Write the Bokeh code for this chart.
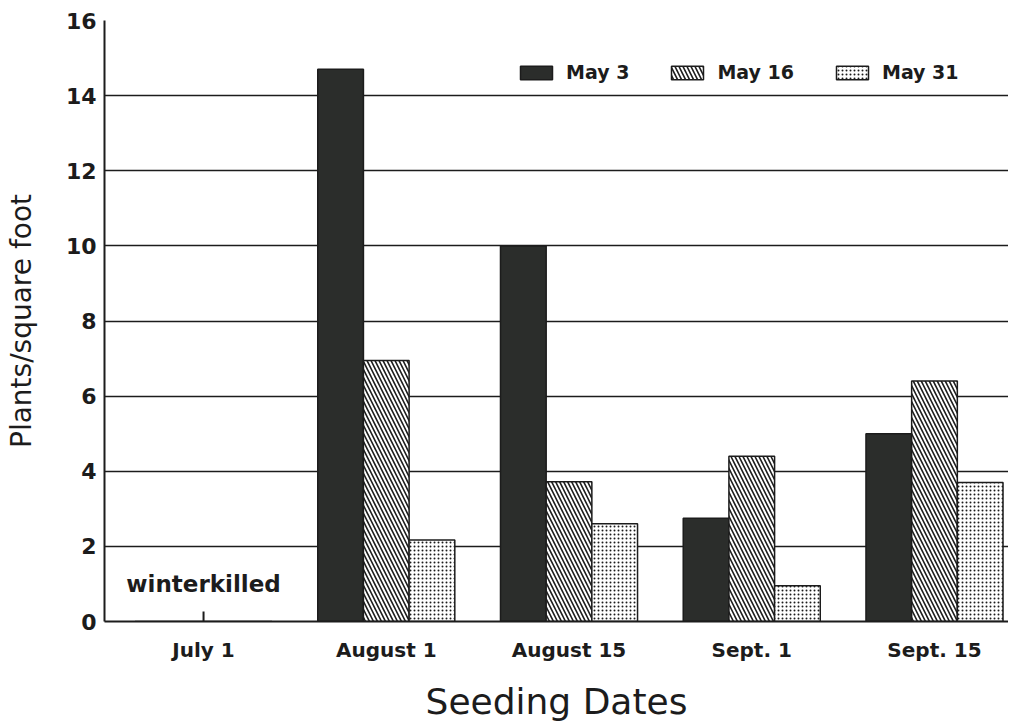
import numpy as np
from bokeh.plotting import figure
from bokeh.models import ColumnDataSource, FixedTicker, Range1d, Label
from bokeh.transform import dodge
from bokeh.embed import file_html
from bokeh.resources import INLINE

# ---- data ----
dates = ["July 1", "August 1", "August 15", "Sept. 1", "Sept. 15"]
may3 = [0, 14.7, 10.0, 2.75, 5.0]
may16 = [0, 6.95, 3.72, 4.4, 6.4]
may31 = [0, 2.17, 2.6, 0.95, 3.7]
series_names = ["May 3", "May 16", "May 31"]
y_ticks = [0, 2, 4, 6, 8, 10, 12, 14, 16]
note_text = "winterkilled"
note_date_index = 0
note_y = 1.0

FONT = "DejaVu Sans"
INK = "#1c1c1c"
DARK = "#2b2d2b"

idx = list(range(len(dates)))
src = ColumnDataSource(dict(idx=idx, may3=may3, may16=may16, may31=may31))

p = figure(width=1008, height=724, output_backend="svg", toolbar_location=None,
           x_range=Range1d(-0.542, 4.405), y_range=Range1d(0, 16),
           min_border_left=104, min_border_right=0, min_border_top=20, min_border_bottom=102)
p.outline_line_color = None
p.background_fill_color = "white"

bw = 0.25
p.vbar(x=dodge("idx", -bw, range=p.x_range), top="may3", width=bw, source=src,
       fill_color=DARK, line_color=INK, line_width=1.5, legend_label=series_names[0])
p.vbar(x=dodge("idx", 0, range=p.x_range), top="may16", width=bw, source=src,
       fill_color="white", line_color=INK, line_width=1.5,
       hatch_pattern="\\", hatch_color=INK, hatch_scale=8, hatch_weight=1.6,
       legend_label=series_names[1])
p.vbar(x=dodge("idx", bw, range=p.x_range), top="may31", width=bw, source=src,
       fill_color="white", line_color=INK, line_width=1.5,
       hatch_pattern=".", hatch_color=INK, hatch_scale=4, hatch_weight=2,
       legend_label=series_names[2])

# winterkilled annotation and tick
p.ray(x=[note_date_index], y=[0], length=10, length_units="screen", angle=np.pi / 2,
      line_color=INK, line_width=2)
p.add_layout(Label(x=note_date_index, y=note_y, text=note_text, text_align="center",
                   text_baseline="middle", text_font=FONT, text_font_style="bold",
                   text_font_size="23px", text_color=INK))

# axes
p.yaxis.ticker = FixedTicker(ticks=y_ticks)
p.xaxis.ticker = FixedTicker(ticks=idx)
p.xaxis.major_label_overrides = {i: d for i, d in enumerate(dates)}

for ax in (p.xaxis[0], p.yaxis[0]):
    ax.axis_line_color = INK
    ax.axis_line_width = 2
    ax.major_tick_line_color = None
    ax.minor_tick_line_color = None
    ax.major_tick_out = 0
    ax.major_tick_in = 0
    ax.major_label_text_font = FONT
    ax.major_label_text_font_style = "bold"
    ax.major_label_text_color = INK
    ax.axis_label_text_font = FONT
    ax.axis_label_text_font_style = "normal"
    ax.axis_label_text_color = INK

p.yaxis.major_label_text_font_size = "22px"
p.yaxis.major_label_standoff = 8
p.yaxis.axis_label = "Plants/square foot"
p.yaxis.axis_label_text_font_size = "28px"
p.yaxis.axis_label_standoff = 25

p.xaxis.major_label_text_font_size = "20px"
p.xaxis.major_label_standoff = 16
p.xaxis.axis_label = "Seeding Dates"
p.xaxis.axis_label_text_font_size = "36px"
p.xaxis.axis_label_standoff = 16

p.xgrid.grid_line_color = None
p.ygrid.ticker = FixedTicker(ticks=y_ticks)
p.ygrid.grid_line_color = INK
p.ygrid.grid_line_width = 1.6

lg = p.legend[0]
lg.orientation = "horizontal"
lg.location = (412, 538)
lg.border_line_color = None
lg.background_fill_color = "white"
lg.background_fill_alpha = 1.0
lg.glyph_width = 40
lg.glyph_height = 17
lg.label_text_font = FONT
lg.label_text_font_style = "bold"
lg.label_text_font_size = "19px"
lg.label_text_color = INK
lg.label_standoff = 10
lg.spacing = 38
lg.padding = 5
lg.margin = 0

open("out.html", "w").write(file_html(p, INLINE))
